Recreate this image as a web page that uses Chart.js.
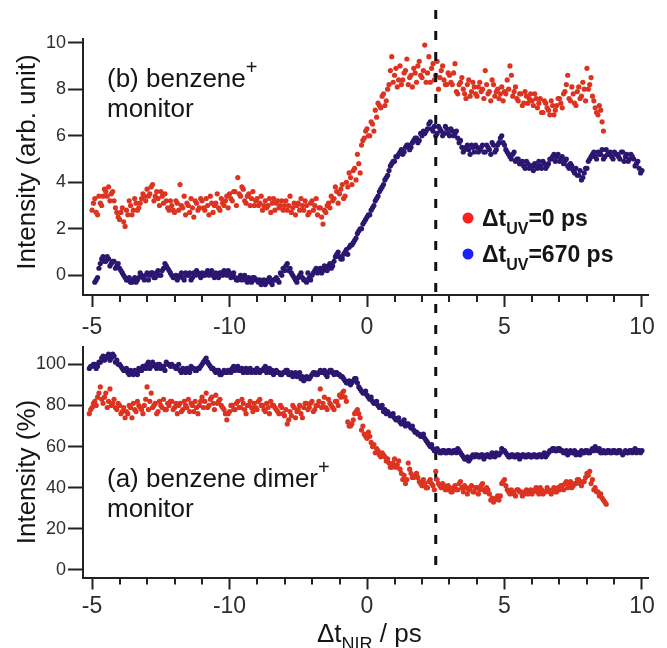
<!DOCTYPE html>
<html><head><meta charset="utf-8">
<script src="https://cdn.jsdelivr.net/npm/chart.js@4.4.1/dist/chart.umd.min.js"></script>
<style>
html,body{margin:0;padding:0;background:#fff;width:667px;height:648px;overflow:hidden}
canvas{position:absolute;left:0;top:0}
</style></head>
<body>
<canvas id="cTop" width="667" height="648"></canvas>
<canvas id="cBot" width="667" height="648"></canvas>
<script>
// ---- Data (time grid: start + index * step, in ps); two interleaved sample sets per series ----
const delayStep = 0.1;
const topRedStart = -10.0, topRedStart2 = -9.95;   // (b) benzene+ , Δt_UV = 0 ps
const topRed = [
2.8,3.3,2.6,3.1,3.4,3.6,3.8,3.5,3.2,2.7,
2.4,2.9,2.1,2.6,3.0,2.8,3.1,2.9,3.3,3.4,
3.7,3.5,3.9,3.4,3.3,3.6,3.1,3.2,2.8,3.0,
2.7,3.1,3.9,2.9,2.6,3.0,3.3,2.5,3.1,2.9,
3.2,2.8,3.0,3.4,2.7,3.1,2.9,3.3,3.0,3.4,
3.5,3.2,3.6,4.2,3.4,3.7,3.1,3.5,3.3,3.0,
3.3,3.1,2.8,3.2,3.0,2.7,3.3,3.1,2.9,3.2,
3.0,2.8,3.4,2.9,2.6,3.1,3.3,2.8,3.0,2.7,
3.2,3.0,2.6,2.9,2.2,2.7,3.1,3.4,3.3,3.6,
3.5,3.9,3.4,3.8,4.2,4.5,4.1,4.8,5.6,5.9,
6.3,6.0,6.5,7.1,7.4,7.2,7.8,7.5,8.2,9.4,
8.6,8.1,9.0,8.4,8.8,8.2,8.6,8.9,8.3,9.2,
8.5,9.9,8.7,8.3,9.1,8.6,8.0,8.8,8.4,8.2,
8.6,8.2,9.1,7.8,8.3,8.0,7.6,8.4,7.9,8.1,
7.7,8.3,8.0,8.8,7.8,7.5,8.2,7.9,7.6,8.1,
7.9,8.4,9.0,7.7,8.1,7.5,7.8,7.4,7.7,7.6,
7.5,7.8,7.2,7.6,7.0,7.4,7.1,7.5,6.9,7.3,
7.6,7.2,7.9,8.6,7.5,7.8,7.3,8.1,7.7,8.0,
8.9,8.2,7.7,7.2,6.9,7.1,6.2];
const topRed2 = [
3.1,2.7,3.4,3.0,3.7,3.4,3.2,3.6,2.9,2.5,
2.7,2.3,2.8,3.2,2.6,3.3,2.8,3.1,3.5,3.2,
3.4,3.8,3.2,3.6,3.0,3.4,3.5,2.9,3.2,2.8,
3.2,2.8,3.0,3.4,3.1,2.7,2.9,3.2,2.8,3.3,
2.9,3.3,2.6,3.1,3.0,3.5,2.8,3.1,3.2,2.9,
3.3,3.6,3.0,3.5,3.8,3.2,3.4,3.0,3.6,3.2,
3.0,3.4,3.0,2.9,3.3,3.1,2.8,3.2,3.0,2.8,
3.2,3.0,2.7,3.1,3.0,2.8,3.0,3.2,2.6,3.1,
2.8,3.3,2.9,2.5,2.8,3.0,2.9,3.2,3.8,3.1,
3.7,3.3,4.0,4.4,3.9,4.6,5.2,4.4,5.8,6.2,
6.0,6.6,6.2,6.8,7.3,7.7,7.3,8.0,8.8,8.3,
8.9,8.4,8.2,8.7,9.3,8.5,8.1,8.7,9.0,8.6,
8.8,8.3,9.4,8.9,8.4,9.2,8.5,9.0,8.2,8.7,
8.3,8.7,7.9,8.2,8.5,7.8,8.2,7.7,8.3,7.8,
8.1,7.9,7.6,8.2,7.9,8.4,7.7,8.0,7.8,7.5,
7.8,8.0,8.6,7.9,7.6,7.8,7.3,7.9,7.4,7.8,
7.3,7.6,7.4,7.0,7.5,7.2,6.9,7.3,7.1,7.6,
7.4,7.8,8.2,7.6,8.1,7.4,7.9,7.6,8.3,7.5,
8.0,8.5,7.5,7.0,7.3,6.6];
const topBlueStart = -9.9, topBlueStart2 = -9.85;   // (b) benzene+ , Δt_UV = 670 ps
const topBlue = [
-0.3,-0.1,0.5,0.8,0.6,0.7,0.5,0.6,0.4,0.3,
0.1,-0.1,-0.2,-0.3,-0.2,-0.3,-0.1,0.0,-0.2,0.1,
0.0,0.1,-0.1,0.2,0.0,0.3,0.4,0.2,0.0,-0.1,
-0.2,0.0,-0.1,0.1,0.0,-0.2,0.1,0.2,0.0,0.1,
0.0,0.2,0.1,0.0,0.1,-0.1,0.1,0.2,0.0,0.1,
0.0,-0.1,-0.2,0.0,-0.1,-0.2,-0.1,-0.3,-0.1,-0.2,
-0.2,-0.3,-0.4,-0.2,-0.3,-0.2,-0.1,-0.3,0.0,0.2,
0.5,0.3,0.0,-0.2,-0.1,0.1,-0.2,-0.3,-0.1,0.0,
0.2,0.1,0.3,0.2,0.3,0.4,0.3,0.6,0.9,0.8,
0.7,1.0,0.9,1.3,1.4,1.6,1.9,2.0,2.3,2.5,
2.6,2.9,3.2,3.4,3.7,3.9,4.2,4.5,4.8,4.9,
5.1,5.3,5.2,5.5,5.6,5.5,5.8,5.9,5.8,6.0,
6.1,6.3,6.6,6.2,6.0,6.4,6.2,6.1,6.3,6.0,
6.2,6.1,5.9,5.8,5.3,5.5,5.4,5.6,5.3,5.5,
5.4,5.6,5.3,5.5,5.2,5.6,5.4,5.7,6.0,5.6,
5.3,5.1,5.2,4.9,5.0,4.8,4.7,4.9,4.6,4.7,
4.8,4.6,4.7,4.9,4.6,4.8,5.0,5.2,5.1,4.9,
5.1,4.9,4.7,4.8,4.5,4.6,4.3,4.1,4.4,4.6,
5.0,5.2,5.1,5.3,5.2,5.0,5.4,5.2,5.1,5.3,
5.2,5.0,5.3,5.1,4.9,5.2,5.0,4.8,4.6,4.5];
const topBlue2 = [
-0.2,0.3,0.7,0.6,0.8,0.4,0.6,0.3,0.5,0.2,
0.0,-0.2,-0.1,-0.3,-0.1,-0.2,0.1,-0.1,0.0,-0.2,
0.1,-0.1,0.1,0.0,0.2,0.5,0.3,0.1,-0.1,0.0,
-0.1,0.1,-0.2,0.0,0.1,-0.1,0.0,0.1,-0.1,0.0,
0.1,0.0,0.2,-0.1,0.0,0.1,0.0,0.1,0.2,-0.1,
0.1,-0.2,-0.1,-0.2,0.0,-0.3,-0.2,-0.1,-0.2,-0.3,
-0.4,-0.2,-0.3,-0.1,-0.4,-0.2,-0.2,0.1,0.3,0.4,
0.2,0.1,-0.1,-0.3,0.0,-0.1,-0.2,0.1,-0.2,0.1,
0.3,0.2,0.1,0.4,0.2,0.5,0.4,0.8,1.0,0.7,
0.9,1.1,1.2,1.3,1.5,1.8,2.0,2.2,2.4,2.6,
2.8,3.0,3.3,3.6,3.8,4.1,4.3,4.7,4.9,5.1,
5.2,5.4,5.3,5.6,5.4,5.7,5.9,5.7,6.1,6.2,
6.2,6.5,6.3,6.4,6.1,6.3,6.0,6.4,6.1,6.3,
6.0,6.2,5.7,5.5,5.4,5.6,5.2,5.5,5.6,5.3,
5.5,5.3,5.6,5.4,5.7,5.3,5.6,5.9,5.7,5.4,
5.2,5.0,5.3,5.0,4.8,4.9,4.6,4.8,4.7,4.5,
4.7,4.9,4.6,4.8,4.7,5.0,5.1,4.9,5.2,5.0,
4.8,5.0,4.6,4.7,4.4,4.3,4.5,4.2,4.6,4.9,
5.1,5.3,5.0,5.2,5.4,5.1,5.2,5.3,5.0,5.2,
5.1,5.3,4.9,5.2,5.0,5.1,4.7,4.9,4.4];
const botBlueStart = -10.1, botBlueStart2 = -10.05;  // (a) benzene dimer+ , Δt_UV = 670 ps
const botBlue = [
98,99,100,99,101,104,103,105,103,104,
102,100,98,97,96,97,95,96,98,97,
99,100,98,101,99,100,98,99,101,100,
100,99,98,97,98,96,97,99,98,97,
98,100,102,101,99,98,96,97,95,97,
96,97,98,97,99,97,96,98,97,96,
97,98,96,97,99,97,96,95,97,96,
95,96,97,95,94,96,95,93,92,94,
93,95,96,95,97,96,95,96,97,95,
96,95,94,92,91,90,92,93,89,87,
86,85,83,82,81,80,79,77,76,76,
75,74,73,72,72,70,71,69,68,67,
66,65,64,62,60,59,58,58,57,58,
57,58,57,58,59,57,55,54,53,55,
55,56,55,56,55,56,55,56,57,56,
59,58,56,55,56,55,56,55,56,55,
56,55,56,55,56,56,55,57,58,59,
58,59,58,57,56,58,57,56,57,58,
57,58,57,59,60,58,57,58,57,58,
57,58,57,58,56,58,57,58,58,57,
58,58];
const botBlue2 = [
99,100,98,101,103,102,104,102,105,101,
100,99,97,98,95,96,97,95,97,99,
98,101,99,100,98,100,99,97,100,99,
99,98,100,96,97,98,96,98,97,98,
99,101,103,100,98,97,97,95,96,96,
97,96,99,98,97,98,97,96,98,97,
96,97,97,98,96,98,97,96,96,95,
96,97,95,96,95,94,96,94,93,93,
94,96,95,96,96,97,94,97,96,96,
95,94,93,91,92,91,93,91,88,86,
87,84,84,81,82,79,80,78,77,75,
76,73,74,71,73,71,70,70,67,66,
65,66,63,61,61,58,59,57,58,57,
58,57,58,57,58,56,54,55,54,56,
56,55,56,54,56,55,57,55,56,57,
58,57,55,56,55,56,54,56,55,56,
55,56,55,56,55,57,56,58,59,58,
59,58,57,58,57,57,58,57,56,57,
58,57,58,58,59,59,57,57,58,57,
58,57,58,57,57,57,58,57,59,58,
57];
const botRedStart = -10.1, botRedStart2 = -10.05;   // (a) benzene dimer+ , Δt_UV = 0 ps
const botRed = [
76,79,82,84,89,81,86,82,80,83,
78,80,77,74,76,79,81,77,80,78,
80,89,82,79,81,77,80,83,78,80,
82,79,76,81,78,80,83,81,77,79,
80,84,82,79,83,81,85,82,80,78,
73,77,80,78,82,79,81,76,80,79,
81,78,83,80,77,79,82,80,78,76,
79,75,71,77,80,74,78,76,79,81,
79,82,78,80,88,81,79,83,80,78,
82,85,86,84,72,70,73,77,76,68,
66,64,65,60,57,58,55,56,53,52,
50,54,51,49,44,42,52,47,45,47,
43,41,42,40,44,41,48,42,40,41,
39,40,38,41,39,43,38,40,39,41,
38,40,39,42,38,39,34,33,35,34,
42,44,39,37,38,36,39,38,37,39,
38,37,39,38,40,37,38,39,37,40,
38,39,41,42,40,43,41,42,44,41,
43,47,48,44,40,38,37,34,32];
const botRed2 = [
78,81,80,86,83,84,79,88,81,79,
81,76,79,77,80,74,78,82,79,76,
83,78,86,80,76,82,79,78,81,82,
78,81,80,77,82,79,77,80,82,76,
82,79,86,80,84,78,81,83,79,76,
76,80,78,81,79,83,78,80,82,77,
79,82,80,78,81,76,80,79,77,80,
76,78,73,75,79,77,80,74,81,78,
81,77,80,82,79,84,78,81,79,82,
80,84,87,82,70,71,76,78,74,70,
65,67,62,61,59,56,57,55,54,50,
52,50,53,47,46,44,49,45,46,45,
42,44,40,43,42,39,44,41,42,39,
41,38,40,39,42,40,41,37,40,38,
40,37,41,39,40,37,35,34,36,36,
43,41,38,39,37,39,38,36,38,37,
39,38,40,37,39,38,40,38,39,38,
40,41,39,43,42,40,42,44,42,43,
45,46,42,39,38,36,35,33];

const xTickValues = [-10, -5, 0, 5, 10];
const xTickLabels = ['-5', '-10', '0', '5', '10'];
const topYTicks = [0, 2, 4, 6, 8, 10];
const botYTicks = [0, 20, 40, 60, 80, 100];
const markerDelay = 2.5;
const legendLabels = [['Δt', 'UV', '=0 ps'], ['Δt', 'UV', '=670 ps']];

// ---- Styles ----
const FONT = "'Liberation Sans', Arial, Helvetica, sans-serif";
const RED = '#dc3421';
const NAVY = '#2b1670';
const AXIS = '#222222';
const TXT = '#151515';
const TICKTXT = '#2e2e2e';

function pts(start, arr) {
  return arr.map((y, i) => ({ x: Math.round((start + i * delayStep) * 100) / 100, y }));
}

function xScale(extraPad) {
  return {
    type: 'linear', min: -10.33, max: 10.22,
    afterBuildTicks: s => { s.ticks = xTickValues.map(v => ({ value: v })); },
    afterFit: s => { s.height = 50; },
    ticks: { callback: (v, i) => xTickLabels[i], font: { family: FONT, size: 23 }, color: TICKTXT,
             padding: extraPad, maxRotation: 0, autoSkip: false },
    grid: { drawOnChartArea: false, drawTicks: true, tickLength: 12, tickWidth: 2, tickColor: AXIS },
    border: { color: AXIS, width: 2 }
  };
}
function yScale(min, max, ticks) {
  return {
    type: 'linear', min, max,
    afterBuildTicks: s => { s.ticks = ticks.map(v => ({ value: v })); },
    afterFit: s => { s.width = 83; },
    ticks: { font: { family: FONT, size: 18 }, color: TICKTXT, padding: 2 },
    grid: { drawOnChartArea: false, drawTicks: true, tickLength: 15, tickWidth: 2, tickColor: AXIS },
    border: { color: AXIS, width: 2 }
  };
}

const minorTicks = {
  id: 'minorTicks',
  afterDraw(chart) {
    const xs = chart.scales.x, ctx = chart.ctx, b = chart.chartArea.bottom;
    ctx.save(); ctx.strokeStyle = AXIS; ctx.lineWidth = 2;
    for (let v = -10; v <= 10; v++) {
      if (v % 5 === 0) continue;
      const px = Math.round(xs.getPixelForValue(v));
      ctx.beginPath(); ctx.moveTo(px, b); ctx.lineTo(px, b + 7); ctx.stroke();
    }
    ctx.restore();
  }
};

function drawSup(ctx, parts, x, y, mainSize, subSize, bold, supShift) {
  const w = bold ? 'bold ' : '';
  ctx.font = w + mainSize + 'px ' + FONT;
  ctx.fillText(parts[0], x, y);
  let cx = x + ctx.measureText(parts[0]).width;
  ctx.font = w + subSize + 'px ' + FONT;
  ctx.fillText(parts[1], cx, y + supShift);
  cx += ctx.measureText(parts[1]).width;
  if (parts[2]) {
    ctx.font = w + mainSize + 'px ' + FONT;
    ctx.fillText(parts[2], cx, y);
  }
}

const topText = {
  id: 'topText',
  afterDraw(chart) {
    const ctx = chart.ctx;
    ctx.save();
    ctx.fillStyle = TXT; ctx.textBaseline = 'alphabetic'; ctx.textAlign = 'left';
    drawSup(ctx, ['(b) benzene', '+', ''], 107, 87, 26, 20, false, -13);
    ctx.font = '26px ' + FONT; ctx.fillText('monitor', 107, 117);
    ctx.save(); ctx.translate(28, 162); ctx.rotate(-Math.PI / 2);
    ctx.textAlign = 'center'; ctx.textBaseline = 'middle'; ctx.font = '26px ' + FONT;
    ctx.fillText('Intensity (arb. unit)', 0, 0); ctx.restore();
    const cols = ['#ff1f1f', '#1f1fff'];
    const ys = [218, 254];
    for (let i = 0; i < 2; i++) {
      ctx.fillStyle = cols[i];
      ctx.beginPath(); ctx.arc(468, ys[i], 5.5, 0, Math.PI * 2); ctx.fill();
      ctx.fillStyle = TXT;
      drawSup(ctx, legendLabels[i], 482, ys[i] + 8, 23, 16, true, 8);
    }
    const px = chart.scales.x.getPixelForValue(markerDelay);
    ctx.strokeStyle = '#111'; ctx.lineWidth = 3; ctx.setLineDash([9, 12]);
    ctx.beginPath(); ctx.moveTo(px, 10); ctx.lineTo(px, 574); ctx.stroke();
    ctx.restore();
  }
};

const botText = {
  id: 'botText',
  afterDraw(chart) {
    const ctx = chart.ctx;
    ctx.save();
    ctx.fillStyle = TXT; ctx.textBaseline = 'alphabetic'; ctx.textAlign = 'left';
    drawSup(ctx, ['(a) benzene dimer', '+', ''], 107, 487, 26, 20, false, -13);
    ctx.font = '26px ' + FONT; ctx.fillText('monitor', 107, 517);
    ctx.save(); ctx.translate(28, 472); ctx.rotate(-Math.PI / 2);
    ctx.textAlign = 'center'; ctx.textBaseline = 'middle'; ctx.font = '26px ' + FONT;
    ctx.fillText('Intensity (%)', 0, 0); ctx.restore();
    drawSup(ctx, ['Δt', 'NIR', ' / ps'], 317, 642, 26, 18, false, 8);
    ctx.restore();
  }
};

function ds(label, data, color) {
  return { label, data, backgroundColor: color, borderColor: color, pointRadius: 2.6,
           pointBorderWidth: 0, showLine: false };
}

const common = {
  responsive: false, animation: false, events: [],
  plugins: { legend: { display: false }, tooltip: { enabled: false } }
};

new Chart(document.getElementById('cTop'), {
  type: 'scatter',
  data: { datasets: [
    ds('Δt_UV=0 ps', pts(topRedStart, topRed).concat(pts(topRedStart2, topRed2)), RED),
    ds('Δt_UV=670 ps', pts(topBlueStart, topBlue).concat(pts(topBlueStart2, topBlue2)), NAVY) ] },
  options: Object.assign({}, common, {
    layout: { padding: { left: 0, right: 19, top: 39, bottom: 303 } },
    scales: { x: xScale(7), y: yScale(-0.85, 10.16, topYTicks) }
  }),
  plugins: [minorTicks, topText]
});

new Chart(document.getElementById('cBot'), {
  type: 'scatter',
  data: { datasets: [
    ds('Δt_UV=670 ps', pts(botBlueStart, botBlue).concat(pts(botBlueStart2, botBlue2)), NAVY),
    ds('Δt_UV=0 ps', pts(botRedStart, botRed).concat(pts(botRedStart2, botRed2)), RED) ] },
  options: Object.assign({}, common, {
    layout: { padding: { left: 0, right: 19, top: 347, bottom: 20.5 } },
    scales: { x: xScale(3), y: yScale(-3.65, 108.4, botYTicks) }
  }),
  plugins: [minorTicks, botText]
});
</script>
</body></html>
